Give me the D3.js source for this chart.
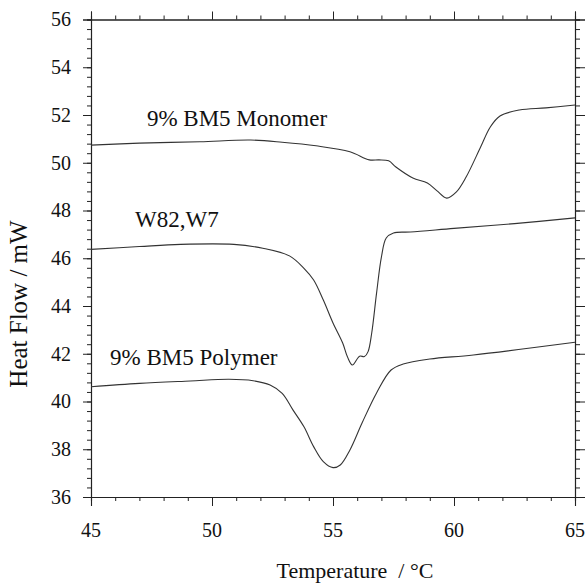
<!DOCTYPE html>
<html>
<head>
<meta charset="utf-8">
<script src="https://cdn.jsdelivr.net/npm/d3@7"></script>
<style>
  body { margin: 0; background: #fff; }
  svg { display: block; }
  svg text { font-family: "Liberation Serif", "Times New Roman", serif; fill: #111; }
</style>
</head>
<body>
<script>
'use strict';

// data
var monoT  = [45, 47, 49.5, 51.6, 52.9, 54.3, 55.7, 56.5, 56.9, 57.3, 57.6, 58.3, 58.9, 59.3, 59.7, 60.1, 60.5, 61.1, 61.5, 61.9, 62.7, 63.8, 65];
var monoHF = [50.74, 50.82, 50.88, 50.95, 50.86, 50.71, 50.46, 50.12, 50.12, 50.08, 49.82, 49.36, 49.15, 48.82, 48.52, 48.78, 49.4, 50.66, 51.5, 51.96, 52.21, 52.3, 52.42];

var w82T  = [45, 47, 48.7, 50.9, 52.1, 53.2, 53.8, 54.2, 54.6, 55.0, 55.4, 55.6, 55.8, 56.1, 56.3, 56.45, 56.6, 56.8, 57.0, 57.2, 57.5, 58.2, 60, 62.5, 65];
var w82HF = [46.37, 46.49, 46.58, 46.58, 46.42, 46.1, 45.58, 45.09, 44.25, 43.29, 42.45, 41.86, 41.53, 41.9, 41.88, 42.09, 42.87, 44.54, 46.05, 46.85, 47.06, 47.1, 47.25, 47.45, 47.69];

var polyT  = [45, 47, 49.1, 50.7, 51.7, 52.4, 52.9, 53.35, 53.8, 54.2, 54.6, 55.0, 55.3, 55.7, 56.2, 56.8, 57.4, 57.9, 59, 60.8, 65];
var polyHF = [40.62, 40.76, 40.86, 40.93, 40.87, 40.69, 40.34, 39.64, 38.94, 38.11, 37.48, 37.23, 37.34, 37.97, 39.1, 40.36, 41.32, 41.57, 41.78, 41.95, 42.48];

var labels  = ["9% BM5 Monomer", "W82,W7", "9% BM5 Polymer"];
var labelT  = [47.31, 46.82, 45.79];
var labelHF = [51.54, 47.31, 41.53];

var xTicks = [45, 50, 55, 60, 65];
var yTicks = [36, 38, 40, 42, 44, 46, 48, 50, 52, 54, 56];

var w = 588,
    h = 585,
    m = {top: 19.5, right: 13, bottom: 88, left: 91};

var x = d3.scaleLinear().domain([45, 65]).range([m.left, w - m.right]);
var y = d3.scaleLinear().domain([36, 56]).range([h - m.bottom, m.top]);

var svg = d3.select("body").append("svg")
    .attr("width", w)
    .attr("height", h);

var xMinor = d3.range(45, 65.01, 1);
var yMinor = d3.range(36, 56.01, 0.4);

function styleAxis(g) {
    g.selectAll("path").attr("stroke", "#222").attr("stroke-width", 1.1);
    g.selectAll("line").attr("stroke", "#222").attr("stroke-width", 1);
}

// minor ticks, all four sides
svg.append("g").attr("transform", "translate(0," + y(36) + ")")
    .call(d3.axisBottom(x).tickValues(xMinor).tickSize(4).tickFormat(""))
    .call(styleAxis);
svg.append("g").attr("transform", "translate(0," + y(56) + ")")
    .call(d3.axisTop(x).tickValues(xMinor).tickSize(4).tickFormat(""))
    .call(styleAxis);
svg.append("g").attr("transform", "translate(" + x(45) + ",0)")
    .call(d3.axisLeft(y).tickValues(yMinor).tickSize(4).tickFormat(""))
    .call(styleAxis);
svg.append("g").attr("transform", "translate(" + x(65) + ",0)")
    .call(d3.axisRight(y).tickValues(yMinor).tickSize(5).tickFormat(""))
    .call(styleAxis);

// major ticks
svg.append("g").attr("transform", "translate(0," + y(36) + ")")
    .call(d3.axisBottom(x).tickValues(xTicks).tickSize(9).tickFormat(""))
    .call(styleAxis);
svg.append("g").attr("transform", "translate(0," + y(56) + ")")
    .call(d3.axisTop(x).tickValues(xTicks).tickSize(8).tickFormat(""))
    .call(styleAxis);
svg.append("g").attr("transform", "translate(" + x(45) + ",0)")
    .call(d3.axisLeft(y).tickValues(yTicks).tickSize(8).tickFormat(""))
    .call(styleAxis);
svg.append("g").attr("transform", "translate(" + x(65) + ",0)")
    .call(d3.axisRight(y).tickValues(yTicks).tickSize(10).tickFormat(""))
    .call(styleAxis);

// tick labels (serif, like the original)
svg.selectAll(".xlab")
    .data(xTicks)
    .enter().append("text")
    .attr("class", "xlab")
    .attr("x", function (d) { return x(d); })
    .attr("y", y(36) + 40)
    .attr("text-anchor", "middle")
    .attr("font-size", 20)
    .text(function (d) { return d; });

svg.selectAll(".ylab")
    .data(yTicks)
    .enter().append("text")
    .attr("class", "ylab")
    .attr("x", x(45) - 20)
    .attr("y", function (d) { return y(d); })
    .attr("dy", "0.34em")
    .attr("text-anchor", "end")
    .attr("font-size", 20)
    .text(function (d) { return d; });

// traces
var line = d3.line()
    .x(function (d) { return x(d[0]); })
    .y(function (d) { return y(d[1]); })
    .curve(d3.curveCatmullRom.alpha(0.5));

[[monoT, monoHF], [w82T, w82HF], [polyT, polyHF]].forEach(function (s) {
    svg.append("path")
        .datum(d3.zip(s[0], s[1]))
        .attr("fill", "none")
        .attr("stroke", "#333")
        .attr("stroke-width", 1.1)
        .attr("d", line);
});

svg.selectAll(".lbl")
    .data(labels)
    .enter().append("text")
    .attr("class", "lbl")
    .attr("x", function (d, i) { return x(labelT[i]); })
    .attr("y", function (d, i) { return y(labelHF[i]); })
    .attr("font-size", 23)
    .text(function (d) { return d; });

// axis titles
svg.append("text")
    .attr("x", 355)
    .attr("y", 578)
    .attr("text-anchor", "middle")
    .attr("font-size", 22)
    .attr("xml:space", "preserve")
    .text("Temperature  / \u00B0C");

svg.append("text")
    .attr("transform", "translate(27,304)rotate(-90)")
    .attr("text-anchor", "middle")
    .attr("font-size", 25)
    .text("Heat Flow / mW");
</script>
</body>
</html>
